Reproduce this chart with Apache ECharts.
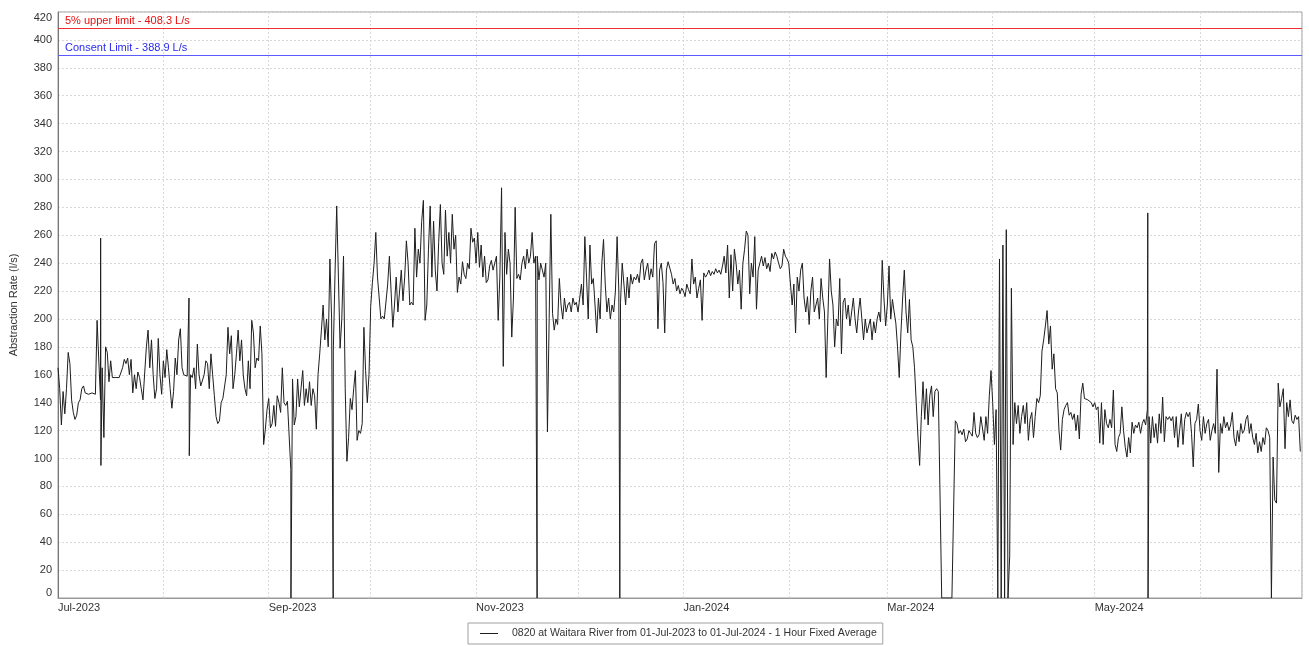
<!DOCTYPE html>
<html>
<head>
<meta charset="utf-8">
<script src="https://cdn.jsdelivr.net/npm/echarts@6/dist/echarts.min.js"></script>
<style>
  html, body { margin: 0; padding: 0; background: #fff; }
  #chart { width: 1309px; height: 646px; }
</style>
</head>
<body>
<div id="chart"></div>
<script>
// 12-hourly readings (L/s) per month
const jul2023 = [165,150,124,148,132,150,176,168,142,133, 128,131,140,142,150,152,147,146,146,145, 147,146,146,199,198,142,165,115,180,176, 155,170,158,158,158,158,158,159,165,171, 168,172,160,171,147,160,150,162,158,150, 142,142,180,192,165,185,160,143,150,186, 160,146];
const aug2023 = [170,158,178,165,150,136,148,172,160,185, 193,165,160,160,159,160,160,158,165,150, 182,160,152,153,160,170,168,150,175,160, 145,130,125,127,140,143,142,160,194,175, 188,150,160,175,192,170,185,160,150,145, 170,150,199,190,165,172,170,195,175,110, 121,135];
const sep2023 = [143,122,125,138,123,145,140,133,165,140, 138,141,140,92,157,124,130,157,137,150, 163,138,150,140,155,138,150,145,121,160, 175,192,210,185,200,180,243,200,177,232, 281,230,179,200,245,150,98,115,143,135, 150,163,113,120,118,125,194,163,140,160];
const oct2023 = [209,226,240,262,230,215,200,202,200,201, 225,245,220,194,210,230,205,220,235,213, 230,256,240,210,212,210,265,230,250,240, 270,285,199,210,250,281,230,270,235,220, 255,282,240,232,278,245,262,240,275,250, 260,219,230,225,241,232,229,240,236,265, 255,258];
const nov2023 = [240,262,237,253,230,245,226,228,238,242, 235,240,245,199,230,294,166,262,232,250, 240,187,215,280,229,232,228,240,245,236, 250,240,245,262,240,245,245,228,240,235, 230,240,119,200,275,204,192,200,196,229, 210,200,215,205,210,212,205,215,210,212];
const dec2023 = [205,215,225,210,259,230,200,253,225,229, 210,190,215,200,240,257,225,205,215,200, 210,205,220,259,220,212,240,225,210,230, 215,232,225,230,228,232,226,240,243,228, 235,240,228,236,230,254,256,193,235,240, 226,190,235,241,240,232,225,229,220,224, 218,222];
const jan2024 = [220,216,225,221,218,243,225,230,215,222, 228,199,233,230,232,235,231,234,232,236, 233,235,232,238,245,233,253,215,246,220, 250,240,225,235,207,240,250,263,260,218, 240,230,259,207,235,240,245,238,244,236, 240,234,247,243,248,245,240,236,238,250, 245,243];
const feb2024 = [240,225,210,225,190,230,220,235,240,215, 205,216,196,220,230,205,210,215,200,229, 215,205,158,200,243,220,210,180,200,195, 229,175,212,215,200,210,195,205,215,200, 190,205,215,200,185,200,190,195,200,185, 198,190,200,205,198,242,215,195];
const mar2024 = [210,238,200,214,205,197,180,158,190,215, 235,205,190,214,185,180,165,140,116,95, 130,155,128,150,124,145,152,130,148,150, 148,148,0,0,0,0,0,0,0,0, 127,125,118,120,117,121,112,114,120,118, 116,133,118,115,117,130,131,113,130,118, 145,163];
const apr2024 = [140,110,135,0,243,0,253,0,264,0, 30,222,110,140,125,138,118,130,138,125, 140,113,128,133,115,130,143,140,145,177, 185,195,206,182,195,164,175,150,147,120, 106,128,135,138,140,131,133,128,132,120, 131,114,146,154,143,144,142,143,140,137];
const may2024 = [140,135,137,111,140,110,135,125,122,128, 122,149,110,105,115,118,137,120,108,101, 115,104,126,118,124,122,126,118,125,128, 124,135,130,111,130,115,125,111,132,118, 144,112,130,128,130,127,130,115,130,108, 120,132,110,128,133,130,133,118,94,125, 128,139];
const jun2024 = [120,113,130,118,125,128,113,120,125,118, 164,90,125,118,130,122,126,120,124,133, 115,109,120,112,125,118,120,128,131,118, 125,115,110,118,104,112,105,115,110,122, 120,115,0,101,70,68,154,137,143,150, 107,140,130,142,127,125,131,128,130,105];

// short one-hour spikes: [hours after 01-Jul-2023 00:00, L/s]
const spikes = [[301,258],[303,95],[925,215],[927,102],[1645,0],[1943,0],[3383,0],[3967,0],[7695,276],[7697,0]];

const months = [
  [2023, 6, jul2023], [2023, 7, aug2023], [2023, 8, sep2023], [2023, 9, oct2023],
  [2023, 10, nov2023], [2023, 11, dec2023], [2024, 0, jan2024], [2024, 1, feb2024],
  [2024, 2, mar2024], [2024, 3, apr2024], [2024, 4, may2024], [2024, 5, jun2024]
];
const monthNames = ['Jan','Feb','Mar','Apr','May','Jun','Jul','Aug','Sep','Oct','Nov','Dec'];

const upperLimit = 408.3;
const consentLimit = 388.9;
const seriesName = '0820 at Waitara River from 01-Jul-2023 to 01-Jul-2024 - 1 Hour Fixed Average';

const HOUR = 3600000;
const start = Date.UTC(2023, 6, 1);
const end = Date.UTC(2024, 6, 1);

let points = [];
months.forEach(([y, m, arr]) => {
  const t0 = Date.UTC(y, m, 1);
  arr.forEach((v, k) => points.push([t0 + k * 12 * HOUR, v]));
});
spikes.forEach(([h, v]) => points.push([start + h * HOUR, v]));
points.sort((a, b) => a[0] - b[0]);

const FONT = "'Liberation Sans', Arial, sans-serif";

function limitSeries(name, value, lineColor, textColor, text) {
  return {
    name: name,
    type: 'line',
    data: [],
    silent: true,
    markLine: {
      silent: true,
      symbol: 'none',
      animation: false,
      lineStyle: { color: lineColor, type: 'solid', width: 1, opacity: 1 },
      label: {
        position: 'insideStartTop', fontFamily: FONT, fontSize: 11,
        color: textColor, distance: [7, 2], formatter: text
      },
      data: [{ yAxis: value }]
    }
  };
}

const chart = echarts.init(document.getElementById('chart'), null, { renderer: 'canvas' });
chart.setOption({
  useUTC: true,
  animation: false,
  backgroundColor: '#fff',
  grid: {
    left: 58, right: 7, top: 12, bottom: 48,
    outerBoundsMode: 'none',
    containLabel: false,
    show: true, borderColor: '#9a9a9a', borderWidth: 1, backgroundColor: 'transparent'
  },
  legend: {
    data: [seriesName],
    left: 468, top: 623,
    selectedMode: false,
    icon: 'rect', itemWidth: 18, itemHeight: 1,
    padding: [5, 6, 5, 12],
    borderColor: '#a0a0a0', borderWidth: 1,
    textStyle: { fontFamily: FONT, fontSize: 10.5, color: '#333', padding: [0, 0, 0, 9] }
  },
  xAxis: {
    type: 'time',
    min: start, max: end,
    splitNumber: 12,
    minInterval: 28 * 24 * HOUR,
    maxInterval: 31 * 24 * HOUR,
    axisLine: { show: true, lineStyle: { color: '#9a9a9a' } },
    axisTick: { show: false },
    splitLine: { show: true, lineStyle: { color: '#d8d8d8', type: [2, 2], width: 1 } },
    axisLabel: {
      fontFamily: FONT, fontSize: 11, color: '#333', margin: 4, align: 'left',
      showMaxLabel: false,
      formatter: function (val) {
        const d = new Date(val);
        const m = d.getUTCMonth();
        if (val >= end) return '';
        if (m % 2 !== 0) return '';
        return monthNames[m] + '-' + d.getUTCFullYear();
      }
    }
  },
  yAxis: {
    type: 'value',
    min: 0, max: 420, interval: 20,
    name: 'Abstraction Rate (l/s)',
    nameLocation: 'middle', nameGap: 39, nameRotate: 90,
    nameTextStyle: { fontFamily: FONT, fontSize: 11, color: '#333' },
    axisLine: { show: true, lineStyle: { color: '#777' } },
    axisTick: { show: false },
    splitLine: { show: true, lineStyle: { color: '#d8d8d8', type: [2, 2], width: 1 } },
    axisLabel: {
      fontFamily: FONT, fontSize: 11, color: '#333', margin: 6,
      verticalAlignMinLabel: 'bottom', verticalAlignMaxLabel: 'top'
    }
  },
  series: [
    {
      name: seriesName,
      type: 'line',
      data: points,
      showSymbol: false,
      symbol: 'none',
      color: '#1e1e1e',
      lineStyle: { color: '#1e1e1e', width: 1 }
    },
    limitSeries('upper', upperLimit, '#f03030', '#e81010', '5% upper limit - ' + upperLimit + ' L/s'),
    limitSeries('consent', consentLimit, '#5a5aff', '#2a2aee', 'Consent Limit - ' + consentLimit + ' L/s')
  ]
});
</script>
</body>
</html>
